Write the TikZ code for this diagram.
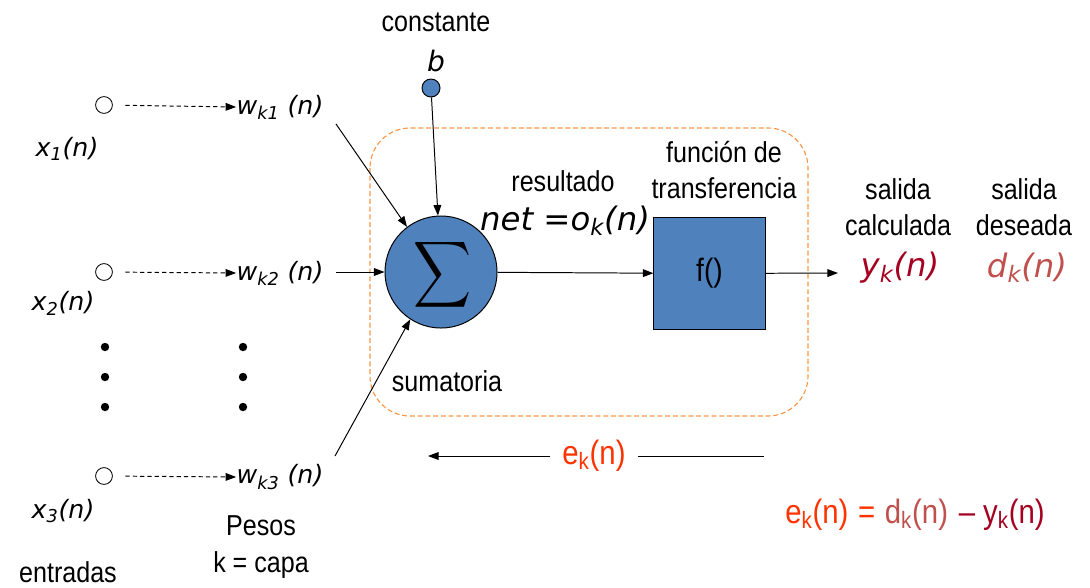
\documentclass[tikz,border=0pt]{standalone}
\usepackage{fontspec}
\setmainfont{Liberation Sans}[FakeStretch=0.87]
\newfontfamily\vfont{DejaVu Sans}
\usetikzlibrary{arrows.meta}
\definecolor{nblue}{HTML}{4F81BD}
\definecolor{borange}{HTML}{F79646}
\definecolor{errc}{HTML}{FF3300}
\definecolor{yc}{HTML}{A50021}
\definecolor{dc}{HTML}{C0504D}
\begin{document}
\begin{tikzpicture}[x=0.025cm,y=-0.025cm,
  line width=0.7pt,
  arr/.style={-{Triangle[length=7.5pt,width=5.5pt]}},
  darr/.style={arr,dash pattern=on 3pt off 2.2pt,shorten <=9pt},
  inp/.style={circle,draw,line width=0.6pt,minimum size=0.42cm,inner sep=0pt},
  dotn/.style={circle,fill,minimum size=0.21cm,inner sep=0pt},
  lab/.style={inner sep=0pt,font=\vfont\itshape\fontsize{18}{20}\selectfont},
  big/.style={inner sep=0pt,font=\vfont\itshape\fontsize{23}{26}\selectfont},
  txt/.style={inner sep=0pt,align=center,font=\fontsize{20.5}{26}\selectfont},
  etxt/.style={inner sep=0pt,font=\fontsize{24}{28}\selectfont}
]
\useasboundingbox (0,0) rectangle (1090,587);

% group box
\draw[borange,dash pattern=on 3.5pt off 2pt,rounded corners=1cm,line width=0.8pt]
  (370,128) rectangle (808,416);

% inputs
\node[inp] (i1) at (104,105) {};
\node[inp] (i2) at (104,272) {};
\node[inp] (i3) at (104,476) {};
\node[lab] (x1) at (67,149) {x\textsubscript{1}(n)};
\node[lab] (x2) at (63,303) {x\textsubscript{2}(n)};
\node[lab] (x3) at (63,511) {x\textsubscript{3}(n)};

% weights
\node[lab] (w1) at (280,107) {w\textsubscript{k1} (n)};
\node[lab] (w2) at (280,273) {w\textsubscript{k2} (n)};
\node[lab] (w3) at (280,477) {w\textsubscript{k3} (n)};
\draw[darr] (i1) -- (w1.west);
\draw[darr] (i2) -- (w2.west);
\draw[darr] (i3) -- (w3.west);

% dots
\foreach \yy/\k in {347/a,377/b,407/c}{
  \node[dotn] (dl\k) at (105,\yy) {};
  \node[dotn] (dr\k) at (243,\yy) {};
}

% summation
\node[circle,draw,fill=nblue,minimum size=2.8cm,inner sep=0pt] (sig) at (441,272) {};
\node[inner sep=0pt] (sgm) at (442.5,275) {\resizebox*{1.45cm}{1.85cm}{$\displaystyle\sum$}};
\node[txt] (sum) at (447,381) {sumatoria};

% bias
\node[txt] (cons) at (436,22) {constante};
\node[lab,font=\vfont\itshape\fontsize{20}{22}\selectfont] (b) at (436,61) {b};
\node[circle,draw,fill=nblue,minimum size=0.45cm,inner sep=0pt] (bc) at (431,88) {};
\draw[arr] (bc) -- (sig);

\coordinate (w1s) at (336,124);
\coordinate (w2s) at (336,272);
\coordinate (w3s) at (335,456);
\draw[arr] (w1s) -- (sig.127);
\draw[arr] (w2s) -- (sig.west);
\draw[arr] (w3s) -- (sig.-123);

% result
\node[txt] (res) at (563,181) {resultado};
\node[big] (net) at (565,221) {net =o\textsubscript{k}(n)};

% transfer
\node[txt] (fun) at (724,170) {función de\\transferencia};
\node[draw,fill=nblue,minimum width=2.78cm,minimum height=2.78cm,inner sep=0pt,
  font=\fontsize{23}{26}\selectfont] (f) at (709.5,273.5) {f()};
\draw[arr] (sig) -- (f);
\coordinate (out) at (838,273);
\draw[arr] (f) -- (out);

% outputs
\node[txt] (sc) at (898,207) {salida\\calculada};
\node[big,text=yc] (y) at (900,268) {y\textsubscript{k}(n)};
\node[txt] (sd) at (1024,207) {salida\\deseada};
\node[big,text=dc] (d) at (1027,268) {d\textsubscript{k}(n)};

% error
\coordinate (eR) at (764,456);
\coordinate (eL) at (428,456);
\node[etxt,text=errc,inner xsep=0.3cm] (err) at (594,456) {e\textsubscript{k}(n)};
\draw (eR) -- (err);
\draw[arr] (err) -- (eL);
\node[etxt] (eq) at (915,515) {\textcolor{errc}{e\textsubscript{k}(n)\hspace{0.24cm}=}\hspace{0.24cm}\textcolor{dc}{d\textsubscript{k}(n)}\hspace{0.27cm}\textcolor{yc}{–\hspace{0.2cm}y\textsubscript{k}(n)}};

% bottom labels
\node[txt] (pes) at (261,547) {Pesos\\k = capa};
\node[txt] (ent) at (68,572) {entradas};
\end{tikzpicture}
\end{document}
